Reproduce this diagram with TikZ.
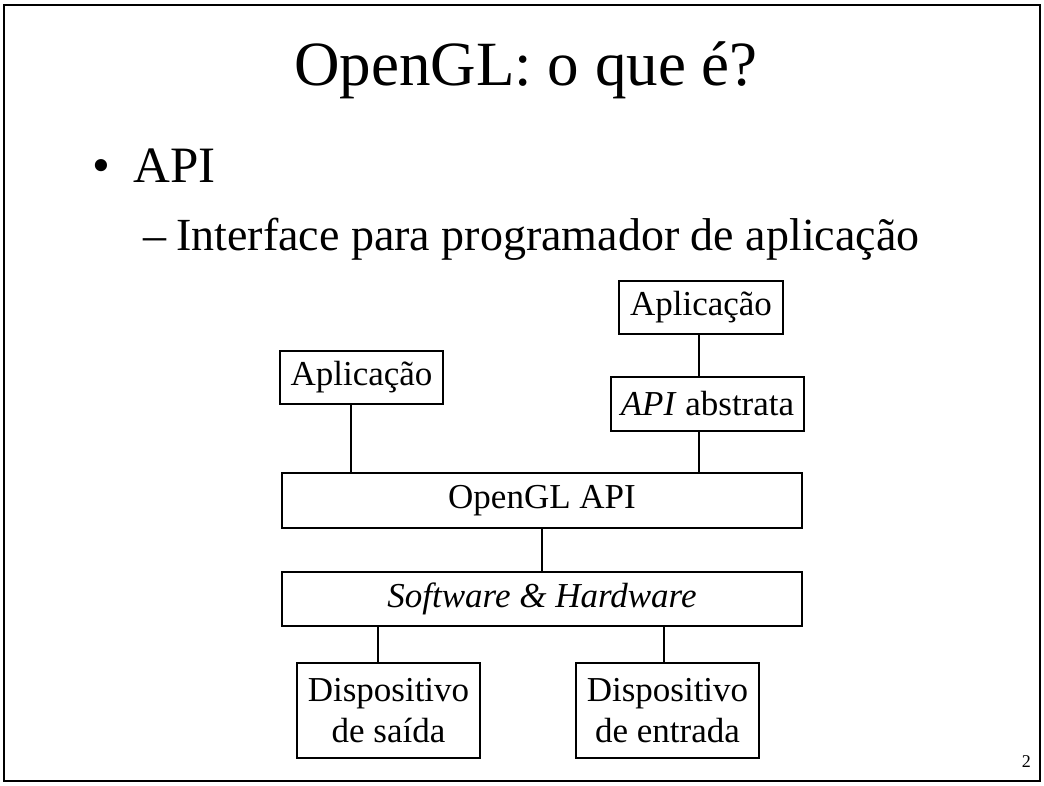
\documentclass[tikz,border=0pt]{standalone}
\usepackage{fontspec}
\setmainfont{Liberation Serif}
\begin{document}
\begin{tikzpicture}[x=1pt,y=-1pt,
  box/.style={draw,line width=1.3pt,inner sep=0pt,font=\fontsize{35}{41}\selectfont},
  txt/.style={inner sep=0pt},
  wire/.style={line width=1.3pt}]
\useasboundingbox (0,0) rectangle (1044,785);
\draw[line width=2.2pt] (4,5) rectangle (1040,781);
% texts
\node[txt,anchor=base,font=\fontsize{63}{75}\selectfont] (title) at (526,85) {OpenGL: o que é?};
\node[txt,anchor=base,font=\fontsize{51}{60}\selectfont] (bul) at (101.5,182) {•};
\node[txt,anchor=base west,font=\fontsize{51}{60}\selectfont] (api) at (133,182) {API};
\node[txt,anchor=base,font=\fontsize{46}{55}\selectfont] (dash) at (155,250) {–};
\node[txt,anchor=base west,font=\fontsize{46}{55}\selectfont] (iface) at (176,250) {Interface para programador de aplicação};
\node[txt,anchor=base east,font=\fontsize{18}{22}\selectfont] (pg) at (1031,767) {2};
% boxes
\node[box,minimum width=163pt,minimum height=53pt] (appL) at (361.5,377.5) {Aplicação};
\node[box,minimum width=164pt,minimum height=53pt] (appR) at (701,307.5) {Aplicação};
\node[box,minimum width=193pt,minimum height=54pt] (abs) at (707.5,404) {\textit{API} abstrata};
\node[box,minimum width=520pt,minimum height=55pt] (ogl) at (542,500.5) {OpenGL API};
\node[box,minimum width=520pt,minimum height=54pt] (sw) at (542,599) {\textit{Software \& Hardware}};
\node[box,align=center,minimum width=183pt,minimum height=95pt] (out) at (388.5,710.5) {Dispositivo\\de saída};
\node[box,align=center,minimum width=183pt,minimum height=95pt] (in) at (667.5,710.5) {Dispositivo\\de entrada};
% connector x positions
\coordinate (xa) at (351,0);
\coordinate (xb) at (699,0);
\coordinate (xc) at (542,0);
\coordinate (xd) at (378,0);
\coordinate (xe) at (664,0);
\draw[wire] (appL.south -| xa) -- (ogl.north -| xa);
\draw[wire] (appR.south -| xb) -- (abs.north -| xb);
\draw[wire] (abs.south -| xb) -- (ogl.north -| xb);
\draw[wire] (ogl.south -| xc) -- (sw.north -| xc);
\draw[wire] (sw.south -| xd) -- (out.north -| xd);
\draw[wire] (sw.south -| xe) -- (in.north -| xe);
\end{tikzpicture}
\end{document}
